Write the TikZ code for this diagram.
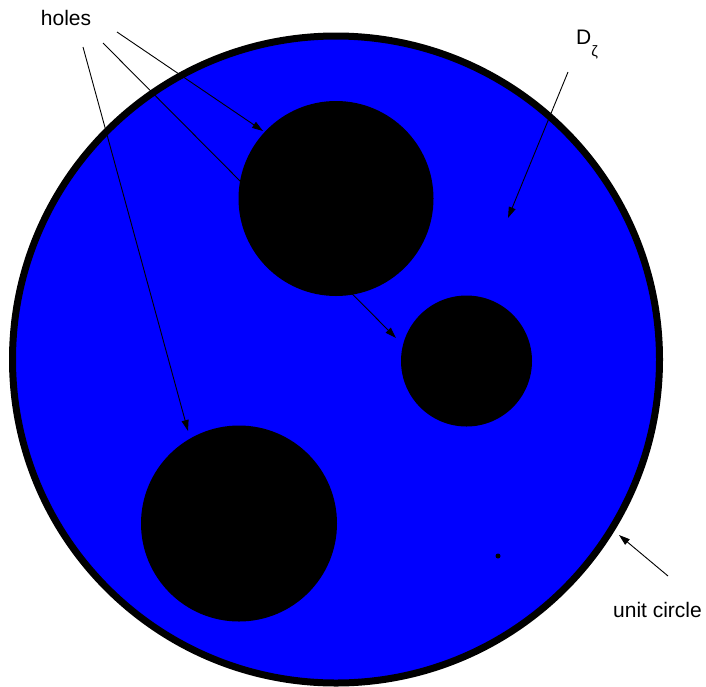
\documentclass[tikz,border=0pt]{standalone}
\usepackage{fontspec}
\setmainfont{Liberation Sans}
\usetikzlibrary{arrows.meta}

\begin{document}
\begin{tikzpicture}[
        x=1pt, y=-1pt,
        >={Triangle[length=11pt, width=7pt]},
        every node/.style={font=\fontsize{21}{25}\selectfont, inner sep=0pt},
        disk/.style={circle, draw=black, line width=7pt, fill=blue, inner sep=0pt},
        hole/.style={circle, fill=black, draw=none, inner sep=0pt},
        ptr/.style={->, line width=0.9pt},
    ]

    \useasboundingbox (0,0) rectangle (706,686);

    % -- domain and holes --
    \node[disk, minimum size=647pt] (unit) at (336,359.5) {};
    \node[hole, minimum size=195pt] (hole1) at (336,198.5) {};
    \node[hole, minimum size=131pt] (hole2) at (466.5,361) {};
    \node[hole, minimum size=196pt] (hole3) at (239,523.5) {};
    \node[hole, minimum size=5pt] (dot) at (498,556) {};

    % -- labels --
    \node (holes) at (66,17.5) {holes};
    \node[anchor=base west] (dz) at (576,44) {D\raisebox{-1.1ex}{\fontsize{15}{15}\selectfont ζ}};
    \node (uc) at (657.5,610) {unit circle};

    % -- arrow ends --
    \coordinate (h1s) at (83,47);
    \coordinate (h2s) at (103,43);
    \coordinate (h3s) at (117,32);
    \coordinate (h1t) at (188,431);
    \coordinate (h2t) at (396,338);
    \coordinate (h3t) at (263,131);
    \coordinate (dzs) at (568,72);
    \coordinate (dzt) at (508,218);
    \coordinate (ucs) at (668,576);
    \coordinate (uct) at (619,535);

    % -- arrows --
    \draw[ptr] (h1s) -- (h1t);
    \draw[ptr] (h2s) -- (h2t);
    \draw[ptr] (h3s) -- (h3t);
    \draw[ptr] (dzs) -- (dzt);
    \draw[ptr] (ucs) -- (uct);

\end{tikzpicture}
\end{document}
